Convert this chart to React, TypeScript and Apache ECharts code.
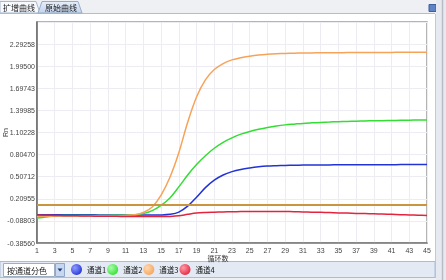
import React, { useEffect, useRef } from 'react';
import * as echarts from 'echarts';

const cycles = ['1','2','3','4','5','6','7','8','9','10','11','12','13','14','15','16','17','18','19','20','21','22','23','24','25','26','27','28','29','30','31','32','33','34','35','36','37','38','39','40','41','42','43','44','45'];

const yTickLabels = ['-0.38560','-0.08803','0.20955','0.50712','0.80470','1.10228','1.39985','1.69743','1.99500','2.29258',''];
const Y_MIN = -0.3856;
const Y_STEP = 0.297576;
const threshold = 0.12;

const channel1 = [-0.006,-0.006,-0.006,-0.006,-0.006,-0.006,-0.006,-0.007,-0.007,-0.007,-0.008,-0.008,-0.008,-0.009,-0.008,0.0,0.03,0.11,0.23,0.36,0.46,0.53,0.575,0.605,0.625,0.64,0.65,0.655,0.659,0.661,0.663,0.664,0.665,0.666,0.667,0.667,0.668,0.668,0.669,0.669,0.669,0.67,0.67,0.67,0.67];
const channel2 = [-0.05,-0.035,-0.022,-0.016,-0.015,-0.015,-0.015,-0.015,-0.014,-0.013,-0.012,-0.006,0.01,0.05,0.12,0.22,0.37,0.53,0.67,0.79,0.89,0.97,1.03,1.08,1.115,1.145,1.17,1.19,1.205,1.215,1.225,1.232,1.238,1.243,1.248,1.252,1.255,1.258,1.26,1.262,1.264,1.266,1.268,1.27,1.271];
const channel3 = [-0.025,-0.025,-0.024,-0.023,-0.022,-0.021,-0.02,-0.02,-0.019,-0.018,-0.014,-0.005,0.025,0.1,0.26,0.5,0.83,1.24,1.58,1.81,1.95,2.03,2.08,2.11,2.13,2.145,2.155,2.162,2.167,2.17,2.172,2.174,2.175,2.176,2.177,2.178,2.179,2.18,2.18,2.181,2.181,2.182,2.182,2.183,2.183];
const channel4 = [-0.01,-0.012,-0.015,-0.017,-0.019,-0.021,-0.023,-0.025,-0.026,-0.027,-0.028,-0.029,-0.03,-0.03,-0.03,-0.028,-0.02,0.0,0.018,0.026,0.03,0.033,0.035,0.037,0.038,0.04,0.04,0.04,0.038,0.036,0.033,0.03,0.027,0.024,0.02,0.017,0.013,0.01,0.007,0.004,0.0,-0.004,-0.008,-0.012,-0.015];

const channelNames = ['通道1', '通道2', '通道3', '通道4'];
const channelData = [channel1, channel2, channel3, channel4];
const channelColors = ['#2233d6', '#33dd33', '#f6a35a', '#e3243c'];
const ballHighlights = ['#8f9cff', '#a8ffa8', '#ffd8b0', '#ff9aa8'];
const thresholdColor = '#c9953f';

const shift = (arr: number[]) => arr.map((v) => +(v - Y_MIN).toFixed(6));

export default function App() {
  const ref = useRef<HTMLDivElement>(null);
  useEffect(() => {
    if (!ref.current) return;
    const chart = echarts.init(ref.current, null, { renderer: 'svg' });
    const font = '"Liberation Sans", Arial, "Noto Sans CJK SC", sans-serif';
    const cjk = '"Noto Sans CJK SC", sans-serif';
    const option: any = {
      animation: false,
      textStyle: { fontFamily: font },
      grid: {
        left: 37, right: 19, top: 22, bottom: 37,
        outerBoundsMode: 'none',
        containLabel: false,
        show: true, borderColor: '#9c9c9c', borderWidth: 1.5,
        backgroundColor: 'transparent',
      },
      legend: {
        show: true,
        left: 71, top: 264,
        padding: 0,
        itemWidth: 11, itemHeight: 11, itemGap: 1,
        icon: 'circle',
        textStyle: { fontSize: 7.5, color: '#111', fontFamily: cjk },
        data: channelNames.map((n, i) => ({
          name: n,
          itemStyle: {
            color: new echarts.graphic.RadialGradient(0.35, 0.35, 0.75, [
              { offset: 0, color: ballHighlights[i] },
              { offset: 1, color: channelColors[i] },
            ]),
          },
        })),
      },
      xAxis: {
        type: 'category',
        data: cycles,
        boundaryGap: false,
        name: '循环数',
        nameLocation: 'middle',
        nameGap: 11,
        nameMoveOverlap: false,
        nameTextStyle: { fontSize: 7, color: '#333', fontFamily: cjk, padding: [0, 28, 0, 0] },
        axisLine: { lineStyle: { color: '#777', width: 1.5 } },
        axisTick: { show: false },
        axisLabel: { interval: 1, fontSize: 7, color: '#444', margin: 4 },
        splitLine: { show: true, interval: 1, lineStyle: { color: '#ececf2', width: 1 } },
      },
      yAxis: {
        type: 'value',
        min: 0,
        max: Y_STEP * 10,
        interval: Y_STEP,
        name: 'Rn',
        nameLocation: 'middle',
        nameGap: 28,
        nameMoveOverlap: false,
        nameTextStyle: { fontSize: 7, color: '#333' },
        axisLine: { show: true, lineStyle: { color: '#666', width: 1.5 } },
        axisTick: { show: false },
        axisLabel: {
          fontSize: 7, color: '#444', margin: 2,
          formatter: (v: number) => yTickLabels[Math.round(v / Y_STEP)] ?? '',
        },
        splitLine: { show: true, lineStyle: { color: '#ececf2', width: 1 } },
      },
      series: channelNames.map((n, i) => ({
        name: n,
        type: 'line',
        data: shift(channelData[i]),
        showSymbol: false,
        smooth: 0.35,
        lineStyle: { color: channelColors[i], width: 1.5 },
        itemStyle: { color: channelColors[i] },
        z: 3,
        ...(i === 3
          ? {
              markLine: {
                silent: true,
                symbol: ['none', 'none'],
                label: { show: false },
                lineStyle: { color: thresholdColor, width: 2, type: 'solid' },
                data: [{ yAxis: +(threshold - Y_MIN).toFixed(6) }],
              },
            }
          : {}),
      })),
      graphic: [
        { type: 'rect', z: -100, shape: { x: 0, y: 0, width: 446, height: 280 }, style: { fill: '#eef0f3' } },
        { type: 'rect', z: -99, shape: { x: 0, y: 14, width: 435, height: 247 }, style: { fill: '#ffffff' } },
        { type: 'line', z: -98, shape: { x1: 0, y1: 13.5, x2: 435, y2: 13.5 }, style: { stroke: '#a9bfdc', lineWidth: 1 } },
        { type: 'polygon', z: -97, shape: { points: [[0, 13], [0, 1.5], [36, 1.5], [40, 13]] }, style: { fill: '#f7f9fc', stroke: '#a7b8d0', lineWidth: 1 } },
        { type: 'polygon', z: -97, shape: { points: [[38, 13], [42, 1.5], [78, 1.5], [82, 13]] }, style: { fill: new echarts.graphic.LinearGradient(0, 0, 0, 1, [{ offset: 0, color: '#e6eef9' }, { offset: 1, color: '#c3d4ec' }]), stroke: '#98acc9', lineWidth: 1 } },
        { type: 'text', z: -96, style: { text: '扩增曲线', x: 3, y: 7.5, fontSize: 8, fill: '#1a1a1a', verticalAlign: 'middle', fontFamily: cjk } },
        { type: 'text', z: -96, style: { text: '原始曲线', x: 45, y: 7.5, fontSize: 8, fill: '#1a1a1a', verticalAlign: 'middle', fontFamily: cjk } },
        { type: 'rect', z: -96, shape: { x: 429, y: 4.5, width: 7, height: 7 }, style: { fill: '#5f83c4', stroke: '#3c5f9e', lineWidth: 1 } },
        { type: 'rect', z: -96, shape: { x: 436, y: 0, width: 10, height: 280 }, style: { fill: '#e6eaf0' } },
        { type: 'line', z: -95, shape: { x1: 435.5, y1: 14, x2: 435.5, y2: 278 }, style: { stroke: '#b9cbe3', lineWidth: 1 } },
        { type: 'line', z: -95, shape: { x1: 442.5, y1: 0, x2: 442.5, y2: 280 }, style: { stroke: '#b8bcc4', lineWidth: 1.5 } },
        { type: 'rect', z: -94, shape: { x: 0, y: 261.5, width: 435, height: 16 }, style: { fill: '#e3eaf4', stroke: '#a9bdd8', lineWidth: 1 } },
        { type: 'rect', z: -93, shape: { x: 3.5, y: 263.5, width: 51, height: 13 }, style: { fill: '#ffffff', stroke: '#9eaec4', lineWidth: 1 } },
        { type: 'text', z: -92, style: { text: '按通道分色', x: 7, y: 270, fontSize: 8, fill: '#1a1a1a', verticalAlign: 'middle', fontFamily: cjk } },
        { type: 'rect', z: -93, shape: { x: 55.5, y: 263.5, width: 9, height: 13 }, style: { fill: '#c6d7ef', stroke: '#8ea7ca', lineWidth: 1 } },
        { type: 'polygon', z: -92, shape: { points: [[57.5, 268.5], [62.5, 268.5], [60, 271.5]] }, style: { fill: '#1d3d75' } },
      ],
    };
    chart.setOption(option);
    return () => chart.dispose();
  }, []);
  return <div ref={ref} style={{ position: 'fixed', left: 0, top: 0, width: 446, height: 280 }} />;
}
